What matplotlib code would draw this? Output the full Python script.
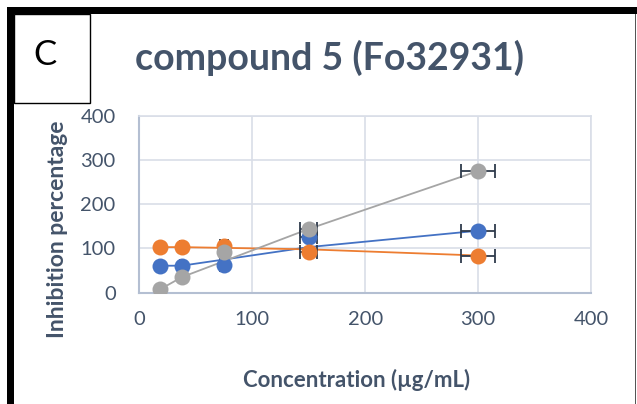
import numpy as np
import matplotlib
matplotlib.use("Agg")
import matplotlib.pyplot as plt
from matplotlib.patches import Rectangle

# concentrations (ug/mL) for the markers
conc = [18.75, 37.5, 75, 150, 300]
blue_pts = [61, 61, 63, 127, 140]
orange_pts = [103, 103, 106, 93, 83]
gray_pts = [8, 35, 91, 144, 275]

# connecting lines
line_conc = [18.75, 37.5, 150, 300]
blue_line = [61, 61, 103, 140]
orange_line = [103, 103, 98, 84]
gray_line = [8, 35, 144, 275]

xerr_frac = 0.05

x_ticks = [0, 100, 200, 300, 400]
y_ticks = [0, 100, 200, 300, 400]

c_blue = "#4472C4"
c_orange = "#ED7D31"
c_gray = "#A5A5A5"
c_text = "#44546A"
c_err = "#2F3B4C"
c_grid = "#D9DEE8"

plt.rcParams['font.family'] = ['Lato', 'DejaVu Sans']

fig = plt.figure(figsize=(6.37, 4.04), dpi=100)
ax = fig.add_axes([0.2187, 0.2755, 0.7091, 0.4381])

series = [(blue_pts, blue_line, c_blue),
          (orange_pts, orange_line, c_orange),
          (gray_pts, gray_line, c_gray)]

for pts, line, col in series:
    ax.plot(line_conc, line, color=col, lw=1.3, zorder=2)
for pts, line, col in series:
    xe = [v * xerr_frac for v in conc]
    ax.errorbar(conc, pts, xerr=xe, fmt="none", ecolor=c_err, elinewidth=1.3,
                capsize=5, capthick=1.3, zorder=3)
for pts, line, col in series:
    ax.plot(conc, pts, "o", color=col, markersize=11.5, markeredgewidth=0, zorder=4)

ax.set_xlim(0, 400)
ax.set_ylim(0, 400)
ax.set_xticks(x_ticks)
ax.set_yticks(y_ticks)
ax.tick_params(length=0, labelsize=14.5, colors=c_text)
ax.tick_params(axis="y", pad=17)
ax.tick_params(axis="x", pad=13)
ax.grid(True, color=c_grid, lw=1.2)
ax.set_axisbelow(True)
for s in ["top", "right"]:
    ax.spines[s].set_color(c_grid)
    ax.spines[s].set_linewidth(1.2)
for s in ["left", "bottom"]:
    ax.spines[s].set_color("#B4BFD2")
    ax.spines[s].set_linewidth(1.5)

fig.text(58 / 637, 1 - 229 / 404, "Inhibition percentage", rotation=90,
         ha="center", va="center", fontsize=16.5, fontweight="bold", color=c_text)
fig.text(357 / 637, 1 - 380 / 404, "Concentration (\u00b5g/mL)",
         ha="center", va="center", fontsize=16, fontweight="bold", color=c_text)
fig.text(329 / 637, 1 - 58 / 404, "compound 5 (Fo32931)",
         ha="center", va="center", fontsize=27, fontweight="bold", color=c_text)

# frame around the panel
W, H = 637, 404
def px_rect(x0, y0, x1, y1, **kw):
    fig.add_artist(Rectangle((x0 / W, 1 - y1 / H), (x1 - x0) / W, (y1 - y0) / H,
                             transform=fig.transFigure, **kw))

px_rect(7, 7, 637, 14, color="black", lw=0)
px_rect(7, 7, 13.5, 404, color="black", lw=0)
px_rect(634.5, 14, 636, 404, color="#555555", lw=0)
px_rect(13.5, 14, 90, 103, facecolor="white", edgecolor="black", lw=1)
fig.text(45 / W, 1 - 55 / H, "C", ha="center", va="center", fontsize=25,
         color="black")

fig.savefig("out.png", dpi=100)
